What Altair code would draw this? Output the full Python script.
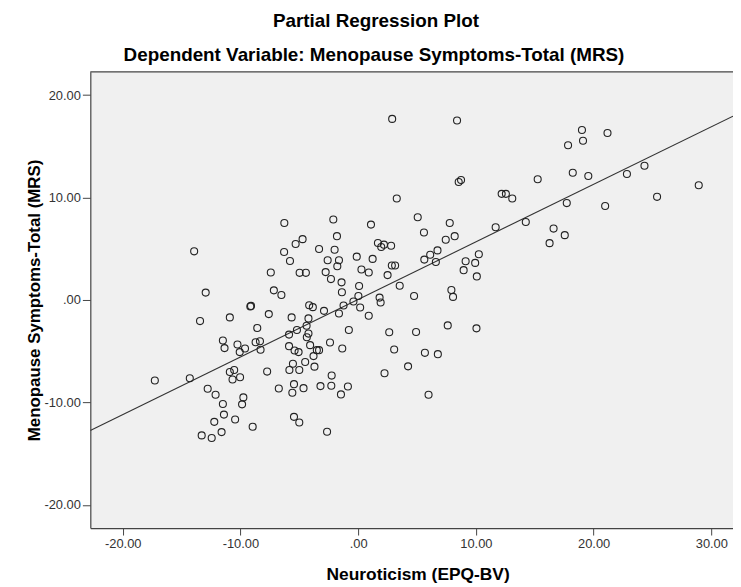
import altair as alt
import pandas as pd

# ---- data ----
neuroticism = [
    -17.27, -13.93, -12.95, -13.43, -14.30, -13.29, -12.44, -12.78, -12.11, -11.49,
    -11.40, -12.22, -11.60, -11.49, -11.35, -10.90, -10.25, -10.06, -9.61, -10.90,
    -10.53, -10.67, -10.03, -9.75, -9.86, -10.45, -8.96, -9.16, -9.10, -8.57,
    -8.71, -8.34, -8.29, -7.59, -7.42, -7.16, -6.52, -7.73, -6.74, -6.27,
    -6.29, -5.79, -5.31, -4.72, -4.97, -4.44, -5.65, -5.87, -5.20, -5.87,
    -5.40, -5.06, -5.54, -5.84, -5.00, -4.50, -5.45, -5.59, -4.64, -5.45,
    -5.00, -4.16, -3.85, -4.22, -4.38, -4.22, -4.36, -4.08, -3.51, -3.32,
    -3.79, -3.71, -3.32, -2.76, -2.59, -2.11, -1.80, -2.00, -1.63, -1.77,
    -2.31, -1.41, -1.38, -1.24, -1.63, -2.90, -0.79, -2.39, -1.35, -2.25,
    -3.20, -2.28, -0.87, -1.46, -2.64, 1.09, -0.12, 1.23, 0.28, 0.90,
    0.08, 0.02, -0.40, 0.17, 0.90, 1.68, 1.96, 2.19, 2.80, 3.28,
    2.50, 2.86, 3.14, 3.53, 1.82, 1.91, 2.64, 3.06, 2.24, 4.24,
    8.40, 5.06, 5.59, 7.78, 8.20, 7.44, 6.74, 6.12, 5.62, 6.60,
    4.75, 8.54, 8.74, 2.89, 9.13, 9.94, 10.25, 8.96, 10.08, 7.92,
    8.06, 4.92, 7.61, 10.05, 5.67, 6.77, 5.98, 11.68, 14.24, 12.19,
    12.55, 13.09, 15.25, 16.60, 17.55, 16.26, 17.72, 18.23, 19.55, 17.83,
    19.01, 19.10, 21.18, 20.98, 22.83, 24.32, 25.39, 28.93,
]
mrs_total = [
    -7.86, 4.75, 0.72, -2.06, -7.64, -13.22, -13.48, -8.67, -9.25, -10.15,
    -11.19, -11.90, -12.90, -3.96, -4.70, -1.70, -4.35, -5.09, -4.73, -7.03,
    -6.83, -7.77, -7.54, -9.51, -10.19, -11.67, -12.38, -0.64, -0.58, -2.73,
    -4.12, -4.03, -4.86, -1.38, 2.68, 0.94, 0.49, -6.99, -8.64, 7.52,
    4.68, 3.81, 5.46, 5.94, 2.65, 2.65, -1.70, -3.38, -2.93, -4.51,
    -4.93, -5.09, -6.22, -6.83, -6.83, -6.06, -8.22, -9.06, -8.61, -11.41,
    -11.96, -0.51, -0.70, -1.80, -2.51, -3.28, -3.64, -4.41, -4.90, -4.90,
    -5.48, -6.51, 4.97, 2.72, 3.88, 7.85, 6.23, 4.91, 3.88, 3.30,
    2.04, 1.72, 0.75, -0.54, -1.32, -1.06, -2.93, -4.15, -4.73, -7.38,
    -8.41, -8.38, -8.45, -9.22, -12.86, 7.36, 4.23, 4.01, 2.97, 2.68,
    1.36, 0.39, -0.15, -0.73, -1.54, 5.56, 5.17, 5.40, 5.30, 9.91,
    2.43, 3.36, 3.36, 1.39, 0.23, -0.25, -3.15, -4.83, -7.15, -6.48,
    17.52, 8.07, 6.59, 7.52, 6.23, 5.88, 4.84, 4.42, 3.94, 3.71,
    0.39, 11.52, 11.71, 17.68, 3.78, 3.62, 4.46, 2.91, 2.30, 0.97,
    0.30, -3.12, -2.48, -2.77, -5.16, -5.29, -9.25, 7.10, 7.62, 10.36,
    10.36, 9.91, 11.78, 6.97, 6.33, 5.55, 9.46, 12.42, 12.10, 15.10,
    16.59, 15.55, 16.30, 9.17, 12.30, 13.10, 10.07, 11.20,
]
fit_x = [-22.75, 31.84]
fit_y = [-12.74, 17.95]

title_text = "Partial Regression Plot"
subtitle_text = "Dependent Variable: Menopause Symptoms-Total (MRS)"
x_title = "Neuroticism (EPQ-BV)"
y_title = "Menopause Symptoms-Total (MRS)"
x_ticks = [-20, -10, 0, 10, 20, 30]
y_ticks = [-20, -10, 0, 10, 20]
x_domain = [-22.75, 31.84]
y_domain = [-22.27, 22.27]

FONT = "Liberation Sans"
W, H = 648, 460

pts = pd.DataFrame({"x": neuroticism, "y": mrs_total})
fit = pd.DataFrame({"x": fit_x, "y": fit_y})

label_expr = "datum.value == 0 ? '.00' : (datum.value < 0 ? '-' : '') + format(abs(datum.value), '.2f')"

xscale = alt.Scale(domain=x_domain, nice=False, zero=False)
yscale = alt.Scale(domain=y_domain, nice=False, zero=False)

xaxis = alt.Axis(
    values=x_ticks, labelExpr=label_expr, grid=False,
    title=x_title, titleFont=FONT, titleFontSize=17.5, titleFontWeight="bold",
    titleColor="#000000", titleX=330, titleY=52, titleBaseline="alphabetic",
    titleAnchor="middle",
    labelFont=FONT, labelFontSize=13, labelColor="#333333", labelPadding=3,
    tickSize=7, tickColor="#444444", domainColor="#444444", domainWidth=1.2,
    labelFlush=False, labelOverlap=False,
)
yaxis = alt.Axis(
    values=y_ticks, labelExpr=label_expr, grid=False,
    title=y_title, titleFont=FONT, titleFontSize=17, titleFontWeight="bold",
    titleColor="#000000", titleX=-51, titleY=230, titleBaseline="alphabetic",
    titleAnchor="middle",
    labelFont=FONT, labelFontSize=13, labelColor="#333333", labelPadding=2,
    tickSize=8, tickColor="#444444", domainColor="#444444", domainWidth=1.2,
    labelFlush=False, labelOverlap=False,
)

points = alt.Chart(pts).mark_point(
    shape="circle", filled=False, size=50, strokeWidth=1.1, color="#222222", opacity=1
).encode(
    x=alt.X("x:Q", scale=xscale, axis=xaxis),
    y=alt.Y("y:Q", scale=yscale, axis=yaxis),
)

line = alt.Chart(fit).mark_line(color="#333333", strokeWidth=1.1, clip=True).encode(
    x=alt.X("x:Q", scale=xscale),
    y=alt.Y("y:Q", scale=yscale),
)

top_border = alt.Chart(pd.DataFrame({"a": [0]})).mark_rule(
    color="#444444", strokeWidth=1.2
).encode(x=alt.value(0), x2=alt.value(W), y=alt.value(0))

t1 = alt.Chart(pd.DataFrame({"t": [title_text]})).mark_text(
    font=FONT, fontSize=19, fontWeight="bold", color="#000000",
    align="center", baseline="alphabetic"
).encode(text="t:N", x=alt.value(288), y=alt.value(-45))

t2 = alt.Chart(pd.DataFrame({"t": [subtitle_text]})).mark_text(
    font=FONT, fontSize=19, fontWeight="bold", color="#000000",
    align="center", baseline="alphabetic"
).encode(text="t:N", x=alt.value(286), y=alt.value(-11))

chart = alt.layer(line, points, top_border, t1, t2).properties(
    width=W, height=H,
    padding={"left": 83, "top": 62, "right": 0, "bottom": 57},
    autosize=alt.AutoSizeParams(type="none"),
    background="#ffffff",
).configure_view(fill="#f0f0f0", stroke=None)

chart.save("out.html", embed_options={"renderer": "svg", "actions": False})
